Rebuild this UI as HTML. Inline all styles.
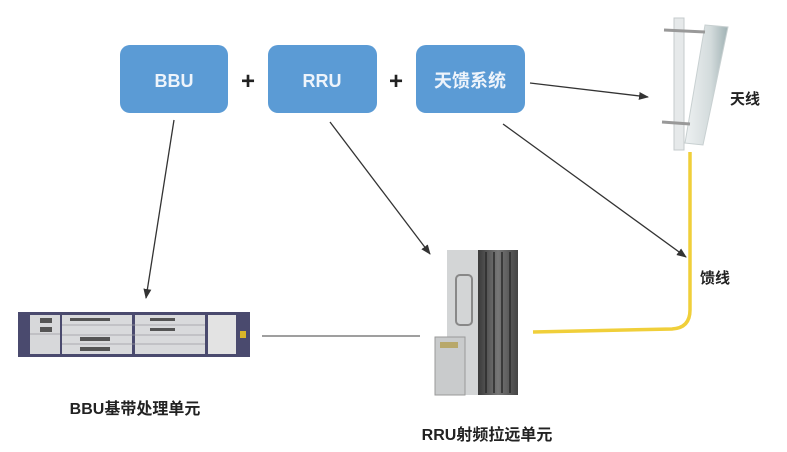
<!DOCTYPE html>
<html><head><meta charset="utf-8"><style>
html,body{margin:0;padding:0;background:#fff}
svg{display:block}
text{font-family:"Liberation Sans","Noto Sans CJK SC",sans-serif;font-weight:bold}
</style></head><body>
<svg width="787" height="452" viewBox="0 0 787 452" xmlns="http://www.w3.org/2000/svg">
<defs>
<marker id="ah" markerWidth="10" markerHeight="10" refX="9" refY="5" orient="auto" markerUnits="userSpaceOnUse">
<path d="M0,1 L10,5 L0,9 z" fill="#333"/></marker>
<linearGradient id="pan" x1="0" x2="1"><stop offset="0" stop-color="#eef1f2"/><stop offset="0.6" stop-color="#d3dbdc"/><stop offset="1" stop-color="#9fb1b3"/></linearGradient>
<linearGradient id="fin" x1="0" x2="1"><stop offset="0" stop-color="#3a3a3a"/><stop offset="0.5" stop-color="#777"/><stop offset="1" stop-color="#444"/></linearGradient>
</defs>
<rect width="787" height="452" fill="#fff"/>
<rect x="120" y="45" width="108" height="68" rx="10" fill="#5b9bd5"/>
<rect x="268" y="45" width="109" height="68" rx="10" fill="#5b9bd5"/>
<rect x="416" y="45" width="109" height="68" rx="10" fill="#5b9bd5"/>
<text x="174" y="87" font-size="18" fill="#eef4fb" text-anchor="middle">BBU</text>
<text x="322" y="87" font-size="18" fill="#eef4fb" text-anchor="middle">RRU</text>
<text x="470" y="87" font-size="18" fill="#eef4fb" text-anchor="middle">天馈系统</text>
<text x="248" y="89" font-size="24" fill="#222" text-anchor="middle">+</text>
<text x="396" y="89" font-size="24" fill="#222" text-anchor="middle">+</text>
<line x1="174" y1="120" x2="146" y2="298" stroke="#333" stroke-width="1.3" marker-end="url(#ah)"/>
<line x1="330" y1="122" x2="430" y2="254" stroke="#333" stroke-width="1.3" marker-end="url(#ah)"/>
<line x1="530" y1="83" x2="648" y2="97" stroke="#333" stroke-width="1.3" marker-end="url(#ah)"/>
<line x1="503" y1="124" x2="686" y2="257" stroke="#333" stroke-width="1.3" marker-end="url(#ah)"/>
<path d="M690,152 L690,310 Q690,328 672,329 L533,332" fill="none" stroke="#f0cf3a" stroke-width="3.5"/>
<line x1="262" y1="336" x2="420" y2="336" stroke="#666" stroke-width="1.3"/>
<rect x="674" y="18" width="10" height="132" fill="#e6e9ea" stroke="#c5cbcc"/>
<path d="M705,25 L728,27 L703,145 L685,143 Z" fill="url(#pan)" stroke="#c8d0d1"/>
<path d="M664,30 L705,32 M662,122 L690,124" stroke="#999" stroke-width="3"/>
<rect x="18" y="312" width="232" height="45" fill="#4a4a6e"/>
<rect x="30" y="315" width="30" height="39" fill="#d7d8da"/>
<rect x="62" y="315" width="70" height="39" fill="#d9dadc"/>
<rect x="135" y="315" width="70" height="39" fill="#d9dadc"/>
<rect x="208" y="315" width="28" height="39" fill="#e3e3e3"/>
<g stroke="#9a9aa0" stroke-width="0.8"><line x1="62" y1="325" x2="205" y2="325"/><line x1="62" y1="335" x2="205" y2="335"/><line x1="62" y1="344" x2="205" y2="344"/><line x1="30" y1="334" x2="60" y2="334"/></g>
<g fill="#555"><rect x="70" y="318" width="40" height="3"/><rect x="150" y="318" width="25" height="3"/><rect x="150" y="328" width="25" height="3"/><rect x="80" y="337" width="30" height="4"/><rect x="80" y="347" width="30" height="4"/><rect x="40" y="318" width="12" height="5"/><rect x="40" y="327" width="12" height="5"/></g>
<rect x="240" y="331" width="6" height="7" fill="#d9b52a"/>
<rect x="447" y="250" width="35" height="145" fill="#d3d5d6"/>
<rect x="478" y="250" width="40" height="145" fill="url(#fin)"/>
<g stroke="#2a2a2a" stroke-width="1.5"><line x1="486" y1="252" x2="486" y2="393"/><line x1="494" y1="252" x2="494" y2="393"/><line x1="502" y1="252" x2="502" y2="393"/><line x1="510" y1="252" x2="510" y2="393"/></g>
<rect x="456" y="275" width="16" height="50" rx="4" fill="none" stroke="#888" stroke-width="2"/>
<rect x="435" y="337" width="30" height="58" fill="#c9cbcc" stroke="#999"/>
<rect x="440" y="342" width="18" height="6" fill="#b8a86a"/>
<text x="730" y="104" font-size="15" fill="#222">天线</text>
<text x="700" y="283" font-size="15" fill="#222">馈线</text>
<text x="135" y="414" font-size="16" fill="#222" text-anchor="middle">BBU基带处理单元</text>
<text x="487" y="440" font-size="16" fill="#222" text-anchor="middle">RRU射频拉远单元</text>
</svg>
</body></html>
